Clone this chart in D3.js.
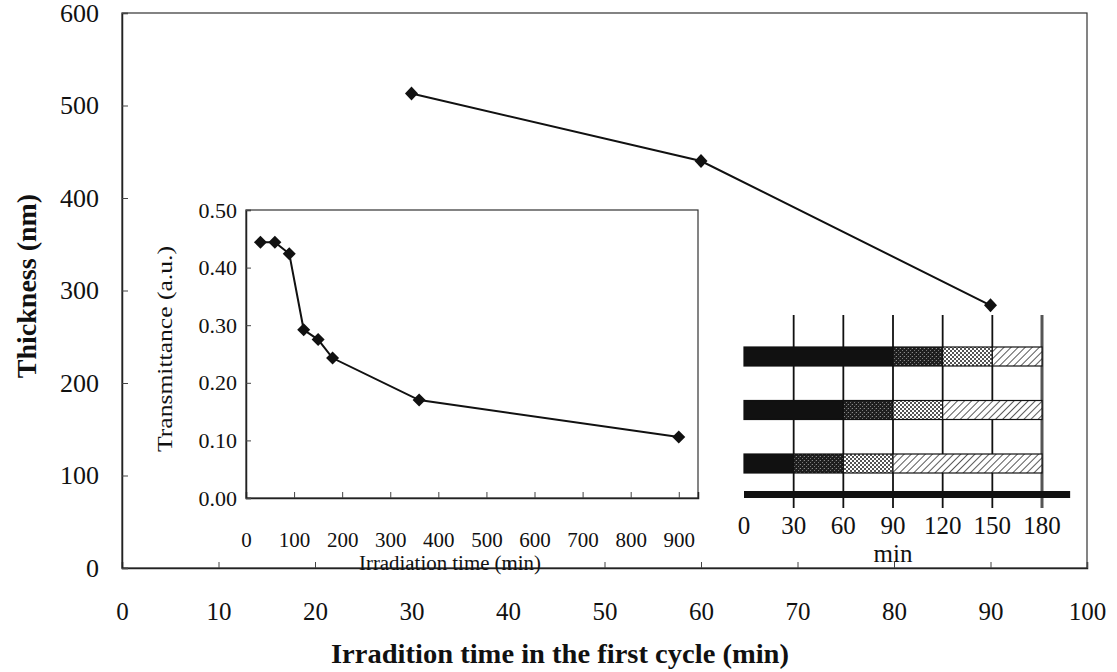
<!DOCTYPE html>
<html>
<head>
<meta charset="utf-8">
<script src="https://cdn.jsdelivr.net/npm/d3@7"></script>
<style>
  html, body { margin: 0; padding: 0; background: #fff; }
  svg { display: block; }
  svg text { font-family: "Liberation Serif", "Times New Roman", serif !important; fill: #111; }
</style>
</head>
<body>
<svg id="chart" width="1117" height="672"></svg>
<script>
// Thickness vs. irradiation time in the first cycle
const firstCycleTime = [30, 60, 90];
const thickness = [513, 440, 284];
const mainXTicks = [0, 10, 20, 30, 40, 50, 60, 70, 80, 90, 100];
const mainYTicks = [0, 100, 200, 300, 400, 500, 600];

// Inset: transmittance vs. irradiation time
const irrTime = [30, 60, 90, 120, 150, 180, 360, 900];
const transmittance = [0.444, 0.444, 0.424, 0.292, 0.275, 0.243, 0.170, 0.106];
const insetXTicks = [0, 100, 200, 300, 400, 500, 600, 700, 800, 900];
const insetYTicks = [0, 0.1, 0.2, 0.3, 0.4, 0.5];

// Irradiation schedule: segment boundaries per row (min)
const scheduleRows = [
  [0, 90, 120, 150, 180],
  [0, 60, 90, 120, 180],
  [0, 30, 60, 90, 180]
];
const segmentFills = ["solid", "dark", "dots", "hatch"];
const scheduleTicks = [0, 30, 60, 90, 120, 150, 180];

const SERIF = '"Liberation Serif", "Times New Roman", serif';
const svg = d3.select("#chart");
const defs = svg.append("defs");

// fill patterns for the schedule bars
const pDark = defs.append("pattern").attr("id", "dark").attr("patternUnits", "userSpaceOnUse")
  .attr("width", 4).attr("height", 4);
pDark.append("rect").attr("width", 4).attr("height", 4).attr("fill", "#1e1e1e");
pDark.append("rect").attr("x", 0).attr("y", 0).attr("width", 1).attr("height", 1).attr("fill", "#8a8a8a");
pDark.append("rect").attr("x", 2).attr("y", 2).attr("width", 1).attr("height", 1).attr("fill", "#7a7a7a");
pDark.append("rect").attr("x", 3).attr("y", 0.5).attr("width", 0.7).attr("height", 0.7).attr("fill", "#666");

const pDots = defs.append("pattern").attr("id", "dots").attr("patternUnits", "userSpaceOnUse")
  .attr("width", 4).attr("height", 4);
pDots.append("rect").attr("width", 4).attr("height", 4).attr("fill", "#fff");
pDots.append("circle").attr("cx", 1).attr("cy", 1).attr("r", 1.0).attr("fill", "#1a1a1a");
pDots.append("circle").attr("cx", 3).attr("cy", 3).attr("r", 1.0).attr("fill", "#1a1a1a");

const pHatch = defs.append("pattern").attr("id", "hatch").attr("patternUnits", "userSpaceOnUse")
  .attr("width", 5).attr("height", 5).attr("patternTransform", "rotate(45)");
pHatch.append("rect").attr("width", 5).attr("height", 5).attr("fill", "#fff");
pHatch.append("line").attr("x1", 0).attr("y1", 0).attr("x2", 0).attr("y2", 5)
  .attr("stroke", "#222").attr("stroke-width", 1.5);

const fillFor = k => k === "solid" ? "#111" : `url(#${k})`;

// filled diamond marker centred on the origin
const diamond = (w, h) => `M0,${-h / 2}L${w / 2},0L0,${h / 2}L${-w / 2},0Z`;

function styleAxis(g, size) {
  g.attr("font-family", SERIF);
  g.select(".domain").attr("stroke", "#222").attr("stroke-width", 1.5);
  g.selectAll(".tick line").attr("stroke", "#444");
  g.selectAll("text").attr("font-size", size).style("font-family", SERIF).attr("fill", "#111");
}

// ---------- main chart ----------
const x = d3.scaleLinear().domain([0, 100]).range([122, 1087]);
const y = d3.scaleLinear().domain([0, 600]).range([568, 13]);

svg.append("rect")
  .attr("x", x(0)).attr("y", y(600))
  .attr("width", x(100) - x(0)).attr("height", y(0) - y(600))
  .attr("fill", "none").attr("stroke", "#333").attr("stroke-width", 1.2);

const xAxis = svg.append("g").attr("transform", `translate(0,${y(0)})`)
  .call(d3.axisBottom(x).tickValues(mainXTicks).tickSize(-6).tickPadding(34).tickFormat(d3.format("d")));
styleAxis(xAxis, 25);

const yAxis = svg.append("g").attr("transform", `translate(${x(0)},0)`)
  .call(d3.axisLeft(y).tickValues(mainYTicks).tickSize(-6).tickPadding(23).tickFormat(d3.format("d")));
styleAxis(yAxis, 26);

svg.append("text")
  .attr("x", 560).attr("y", 663).attr("text-anchor", "middle")
  .attr("font-size", 27).attr("font-weight", "bold")
  .attr("textLength", 458).attr("lengthAdjust", "spacingAndGlyphs")
  .text("Irradition time in the first cycle (min)");

svg.append("text")
  .attr("transform", "translate(36,286) rotate(-90)").attr("text-anchor", "middle")
  .attr("font-size", 28).attr("font-weight", "bold")
  .text("Thickness (nm)");

const mainPts = firstCycleTime.map((t, i) => [t, thickness[i]]);
svg.append("path")
  .attr("d", d3.line().x(d => x(d[0])).y(d => y(d[1]))(mainPts))
  .attr("fill", "none").attr("stroke", "#111").attr("stroke-width", 2);
svg.append("g").selectAll("path").data(mainPts).join("path")
  .attr("transform", d => `translate(${x(d[0])},${y(d[1])})`)
  .attr("d", diamond(13, 14))
  .attr("fill", "#111");

// ---------- inset ----------
const ix = d3.scaleLinear().domain([0, 940]).range([246, 698]);
const iy = d3.scaleLinear().domain([0, 0.5]).range([498, 210]);

svg.append("rect")
  .attr("x", ix(0)).attr("y", iy(0.5))
  .attr("width", ix(940) - ix(0)).attr("height", iy(0) - iy(0.5))
  .attr("fill", "#fff").attr("stroke", "#333").attr("stroke-width", 1.2);

const ixAxis = svg.append("g").attr("transform", `translate(0,${iy(0)})`)
  .call(d3.axisBottom(ix).tickValues(insetXTicks).tickSize(-6).tickPadding(34).tickFormat(d3.format("d")));
styleAxis(ixAxis, 21);

const iyAxis = svg.append("g").attr("transform", `translate(${ix(0)},0)`)
  .call(d3.axisLeft(iy).tickValues(insetYTicks).tickSize(-5).tickPadding(9).tickFormat(d3.format(".2f")));
styleAxis(iyAxis, 22);

svg.append("text")
  .attr("x", 450).attr("y", 570).attr("text-anchor", "middle")
  .attr("font-size", 20)
  .attr("textLength", 182).attr("lengthAdjust", "spacingAndGlyphs")
  .text("Irradiation time (min)");

svg.append("text")
  .attr("transform", "translate(172,349) rotate(-90)").attr("text-anchor", "middle")
  .attr("font-size", 21)
  .attr("textLength", 206).attr("lengthAdjust", "spacingAndGlyphs")
  .text("Transmittance (a.u.)");

const insetPts = irrTime.map((t, i) => [t, transmittance[i]]);
svg.append("path")
  .attr("d", d3.line().x(d => ix(d[0])).y(d => iy(d[1]))(insetPts))
  .attr("fill", "none").attr("stroke", "#111").attr("stroke-width", 2);
svg.append("g").selectAll("path").data(insetPts).join("path")
  .attr("transform", d => `translate(${ix(d[0])},${iy(d[1])})`)
  .attr("d", diamond(13, 13))
  .attr("fill", "#111");

// ---------- irradiation schedule diagram ----------
const sx = d3.scaleLinear().domain([0, 180]).range([744, 1042]);
const rowY = d3.scalePoint().domain(d3.range(scheduleRows.length)).range([347, 454]);
const rowH = 19;

const sched = svg.append("g");
sched.selectAll("line.grid").data(scheduleTicks.slice(1)).join("line")
  .attr("class", "grid")
  .attr("x1", d => sx(d)).attr("x2", d => sx(d))
  .attr("y1", 315).attr("y2", 508)
  .attr("stroke", d => d === 180 ? "#555" : "#111")
  .attr("stroke-width", d => d === 180 ? 3 : 1.8);

scheduleRows.forEach((bounds, r) => {
  const segs = d3.pairs(bounds).map((p, i) => ({ a: p[0], b: p[1], fill: segmentFills[i] }));
  sched.append("g").selectAll("rect").data(segs).join("rect")
    .attr("x", d => sx(d.a)).attr("width", d => sx(d.b) - sx(d.a))
    .attr("y", rowY(r)).attr("height", rowH)
    .attr("fill", d => fillFor(d.fill))
    .attr("stroke", "#111").attr("stroke-width", 1.2);
});

// base time line
sched.append("rect")
  .attr("x", sx(0)).attr("width", sx(197) - sx(0))
  .attr("y", 491).attr("height", 7)
  .attr("fill", "#111");

sched.selectAll("text.tl").data(scheduleTicks).join("text")
  .attr("class", "tl")
  .attr("x", d => sx(d)).attr("y", 534)
  .attr("text-anchor", "middle").attr("font-size", 25)
  .text(d => d);

sched.append("text")
  .attr("x", sx(90)).attr("y", 562).attr("text-anchor", "middle")
  .attr("font-size", 25).text("min");
</script>
</body>
</html>
